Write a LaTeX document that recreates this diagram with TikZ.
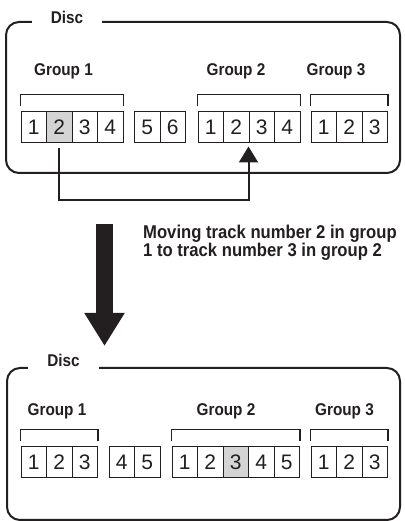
\documentclass[tikz,border=0pt]{standalone}
\usepackage{fontspec}
\setmainfont{Liberation Sans}
\newfontfamily\lblfont[FakeStretch=0.9]{Liberation Sans}
\usetikzlibrary{positioning,arrows.meta}
\definecolor{ink}{RGB}{35,31,32}
\definecolor{shade}{RGB}{212,212,212}

\begin{document}
\begin{tikzpicture}[x=1pt,y=1pt,every node/.style={text=ink},
	trk/.style={draw=ink,line width=1pt,minimum width=25.5pt,minimum height=31pt,inner sep=0pt,font=\fontsize{21}{21}\selectfont},
	lbl/.style={font=\lblfont\bfseries\fontsize{17}{17}\selectfont,anchor=base,inner sep=1pt},
	frm/.style={draw=ink,line width=2pt,rounded corners=13pt},
	brk/.style={draw=ink,line width=1.8pt},
	conn/.style={draw=ink,line width=2pt,-{Triangle[width=19pt,length=16pt]}}]

\useasboundingbox (0,0) rectangle (404,521);

\draw[frm] (6,348) rectangle (400,499);
\draw[frm] (7,1) rectangle (400,153);
\node[lbl,fill=white,inner xsep=19pt,inner ysep=4pt] (disc1) at (67,497) {Disc};
\node[lbl,fill=white,inner xsep=19pt,inner ysep=4pt] (disc2) at (63.5,154) {Disc};

\foreach \i/\c in {1/white,2/shade,3/white,4/white}{
	\node[trk,fill=\c] (a\i) at (8.25+25.5*\i,393.5) {\i};
}
\foreach \i in {5,6}{
	\node[trk] (a\i) at (19.75+25.5*\i,393.5) {\i};
}
\foreach \i in {1,...,4}{
	\node[trk] (b\i) at (185.25+25.5*\i,393.5) {\i};
}
\foreach \i in {1,...,3}{
	\node[trk] (c\i) at (298.25+25.5*\i,393.5) {\i};
	\node[trk] (d\i) at (8.25+25.5*\i,58.5) {\i};
	\node[trk] (f\i) at (298.25+25.5*\i,58.5) {\i};
}
\foreach \i in {4,5}{
	\node[trk] (d\i) at (19.75+25.5*\i,58.5) {\i};
}
\foreach \i/\c in {1/white,2/white,3/shade,4/white,5/white}{
	\node[trk,fill=\c] (e\i) at (159.25+25.5*\i,58.5) {\i};
}

\foreach \x/\y in {a1/a4,b1/b4,c1/c3,d1/d3,e1/e5,f1/f3}{
	\draw[brk] ([yshift=5pt]\x.north west) |- ([yshift=17pt]\y.north east) -- ([yshift=5pt]\y.north east);
}

\node[lbl] (g1) at (63.5,445) {Group 1};
\node[lbl] (g2) at (236,445) {Group 2};
\node[lbl] (g3) at (336,445) {Group 3};
\node[lbl] (h1) at (57,105) {Group 1};
\node[lbl] (h2) at (226,105) {Group 2};
\node[lbl] (h3) at (344.5,105) {Group 3};

\draw[conn] ([yshift=-5pt]a2.south) -- ++(0,-52) -| ([yshift=-3pt]b3.south west);

\coordinate (from) at (104.5,297);
\coordinate (to) at (104.5,175);
\draw[ink,line width=17pt,-{Triangle[width=38pt,length=33pt]}] (from) -- (to);

\node[anchor=north west,align=left,inner sep=0pt,font=\lblfont\bfseries\fontsize{18.5}{18}\selectfont] (note) at (143,296) {Moving track number 2 in group\\1 to track number 3 in group 2};

\end{tikzpicture}
\end{document}
